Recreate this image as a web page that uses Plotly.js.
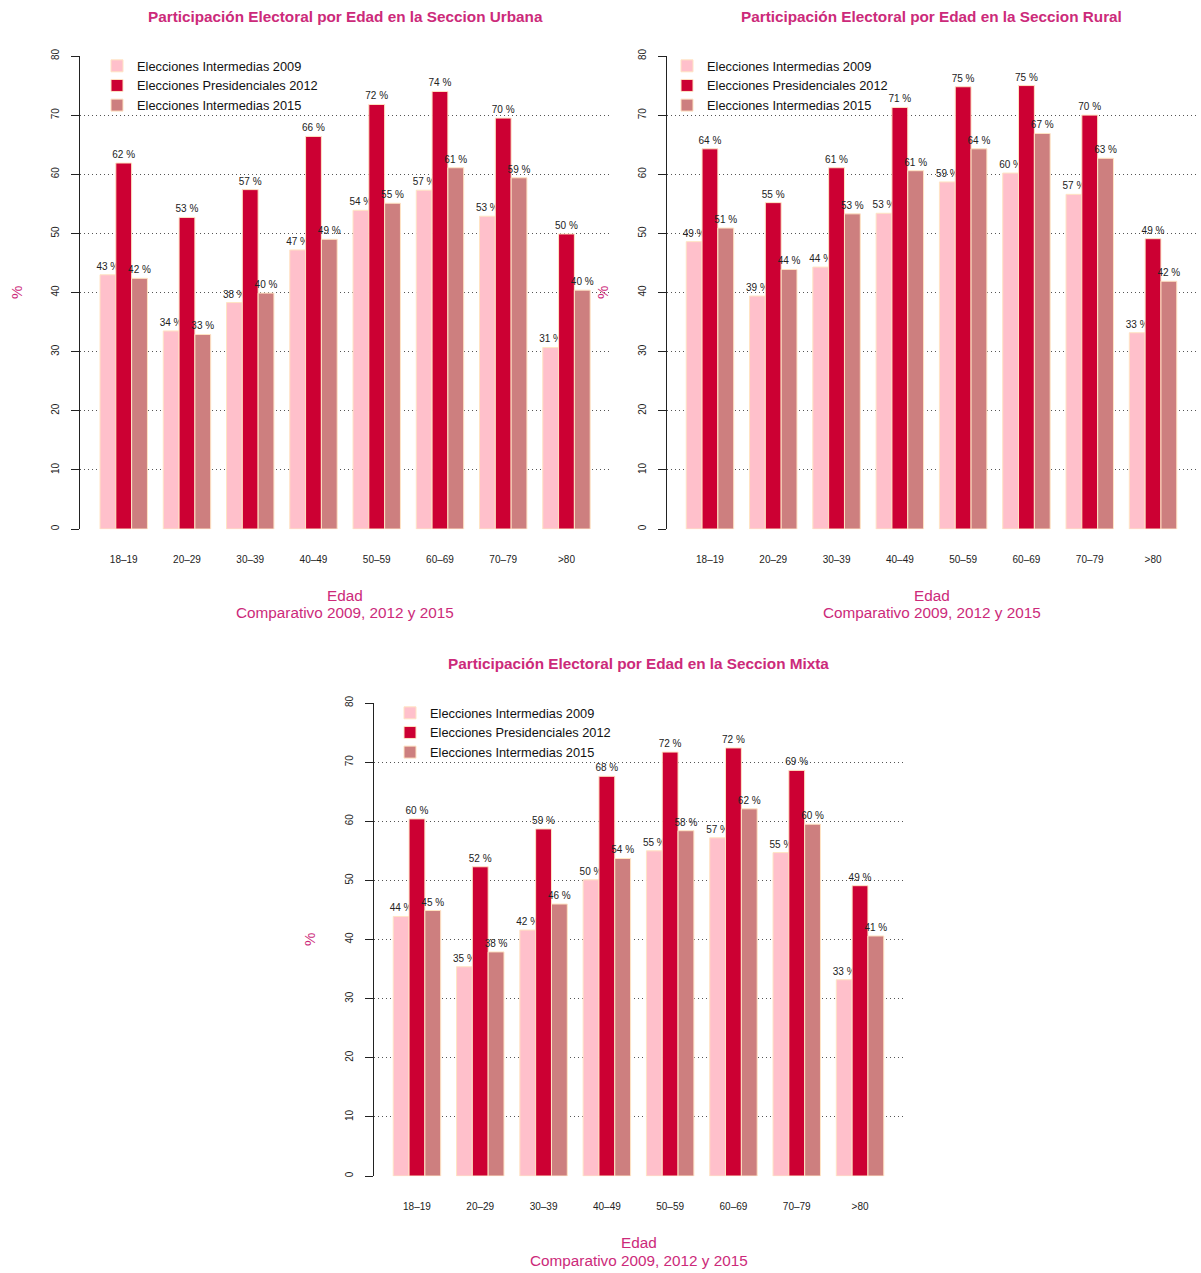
<!DOCTYPE html>
<html>
<head>
<meta charset="utf-8">
<script src="https://cdn.plot.ly/plotly-3.0.1.min.js"></script>
<style>html,body{margin:0;padding:0;background:#fff;}#chart{width:1201px;height:1273px;}</style>
</head>
<body>
<div id="chart"></div>
<script>
const categories = ["18\u201319","20\u201329","30\u201339","40\u201349","50\u201359","60\u201369","70\u201379",">80"];
const seriesNames = ["Elecciones Intermedias 2009","Elecciones Presidenciales 2012","Elecciones Intermedias 2015"];

const urbana2009 = [43.0, 33.5, 38.3, 47.2, 53.9, 57.3, 52.9, 30.7];
const urbana2012 = [61.9, 52.7, 57.4, 66.4, 71.8, 74.0, 69.5, 49.9];
const urbana2015 = [42.4, 32.9, 39.9, 49.0, 55.1, 61.1, 59.4, 40.4];

const rural2009 = [48.6, 39.4, 44.3, 53.4, 58.7, 60.2, 56.6, 33.2];
const rural2012 = [64.3, 55.2, 61.1, 71.3, 74.8, 75.0, 70.0, 49.1];
const rural2015 = [50.9, 43.9, 53.3, 60.6, 64.3, 66.9, 62.7, 41.9];

const mixta2009 = [43.9, 35.4, 41.6, 50.1, 55.0, 57.2, 54.7, 33.2];
const mixta2012 = [60.4, 52.3, 58.7, 67.6, 71.7, 72.4, 68.6, 49.1];
const mixta2015 = [44.9, 37.9, 46.0, 53.7, 58.4, 62.1, 59.5, 40.6];

const yTicks = [0,10,20,30,40,50,60,70,80];
const titles = [
  "Participación Electoral por Edad en la Seccion Urbana",
  "Participación Electoral por Edad en la Seccion Rural",
  "Participación Electoral por Edad en la Seccion Mixta"
];

const colors = ["#FFC0CB", "#CC0033", "#CD7F7F"];
const borderColor = "#FFE4C4";
const accent = "#CC2A7A";
const W = 1201, H = 1273;
const px = v => v / W;
const py = v => (H - v) / H;

const panels = [
  {data:[urbana2009, urbana2012, urbana2015], xa:"x", ya:"y", legend:"legend", left:80.4, right:609.8, top:56, bottom:529, legX:97},
  {data:[rural2009, rural2012, rural2015], xa:"x2", ya:"y2", legend:"legend2", left:666.6, right:1196.4, top:56, bottom:529, legX:667},
  {data:[mixta2009, mixta2012, mixta2015], xa:"x3", ya:"y3", legend:"legend3", left:373.6, right:903.4, top:703, bottom:1176, legX:390}
];

const traces = [];
panels.forEach((p) => {
  p.data.forEach((vals, i) => {
    traces.push({
      type: "bar",
      x: categories,
      y: vals,
      name: seriesNames[i],
      xaxis: p.xa,
      yaxis: p.ya,
      legend: p.legend,
      marker: {color: colors[i], line: {color: borderColor, width: 1}},
      text: vals.map(v => Math.round(v) + " %"),
      textposition: "outside",
      textfont: {family: "Liberation Sans, Arial, sans-serif", size: 10, color: "#222"},
      constraintext: "none",
      cliponaxis: false,
      hoverinfo: "skip"
    });
  });
});

const layout = {
  width: W, height: H,
  margin: {l: 0, r: 0, t: 0, b: 0},
  paper_bgcolor: "#fff",
  plot_bgcolor: "rgba(0,0,0,0)",
  font: {family: "Liberation Sans, Arial, sans-serif", color: "#222"},
  barmode: "group",
  bargap: 0.25,
  bargroupgap: 0,
  annotations: [],
  shapes: []
};

const pad = 0.05;
const legendNames = ["legend", "legend2", "legend3"];
panels.forEach((p, k) => {
  const sfx = k === 0 ? "" : String(k + 1);
  const unit = (p.bottom - p.top) / 80;
  layout["xaxis" + sfx] = {
    domain: [px(p.left), px(p.right)],
    anchor: "y" + sfx,
    type: "category",
    range: [-0.685, 7.685],
    showgrid: false, zeroline: false, showline: false,
    ticks: "outside", ticklen: 21, tickcolor: "rgba(0,0,0,0)",
    tickfont: {size: 10, color: "#222"},
    fixedrange: true
  };
  layout["yaxis" + sfx] = {
    domain: [py(p.bottom + pad * unit), py(p.top - pad * unit)],
    anchor: "x" + sfx,
    range: [-pad, 80 + pad],
    tickvals: yTicks,
    ticktext: yTicks.map(String),
    tickangle: -90,
    ticks: "outside", ticklen: 8, tickcolor: "#222", tickwidth: 1,
    ticklabelstandoff: 8,
    tickfont: {size: 10, color: "#222"},
    showline: true, linecolor: "#222", linewidth: 1,
    showgrid: true, gridcolor: "#555", griddash: "1px,3px", gridwidth: 1,
    zeroline: false,
    fixedrange: true
  };
  const cx = (p.left + p.right) / 2;
  layout.annotations.push({
    text: "<b>" + titles[k] + "</b>", xref: "paper", yref: "paper",
    x: px(cx), y: py(p.top - 39), xanchor: "center", yanchor: "middle",
    showarrow: false, font: {size: 15.3, color: accent}
  });
  layout.annotations.push({
    text: "Edad", xref: "paper", yref: "paper",
    x: px(cx), y: py(p.bottom + 66), xanchor: "center", yanchor: "middle",
    showarrow: false, font: {size: 15.3, color: accent}
  });
  layout.annotations.push({
    text: "Comparativo 2009, 2012 y 2015", xref: "paper", yref: "paper",
    x: px(cx), y: py(p.bottom + 84), xanchor: "center", yanchor: "middle",
    showarrow: false, font: {size: 15.3, color: accent}
  });
  layout.annotations.push({
    text: "%", xref: "paper", yref: "paper", textangle: -90,
    x: px(p.left - 64), y: py((p.top + p.bottom) / 2), xanchor: "center", yanchor: "middle",
    showarrow: false, font: {size: 15, color: accent}
  });
  layout[legendNames[k]] = {
    x: px(p.legX), y: py(p.top - 5), xanchor: "left", yanchor: "top",
    xref: "paper", yref: "paper",
    bgcolor: "rgba(255,255,255,0)", borderwidth: 0,
    font: {size: 12.8, color: "#111"},
    itemwidth: 30, tracegroupgap: 0
  };
});

Plotly.newPlot("chart", traces, layout, {staticPlot: true, displayModeBar: false});
</script>
</body>
</html>
